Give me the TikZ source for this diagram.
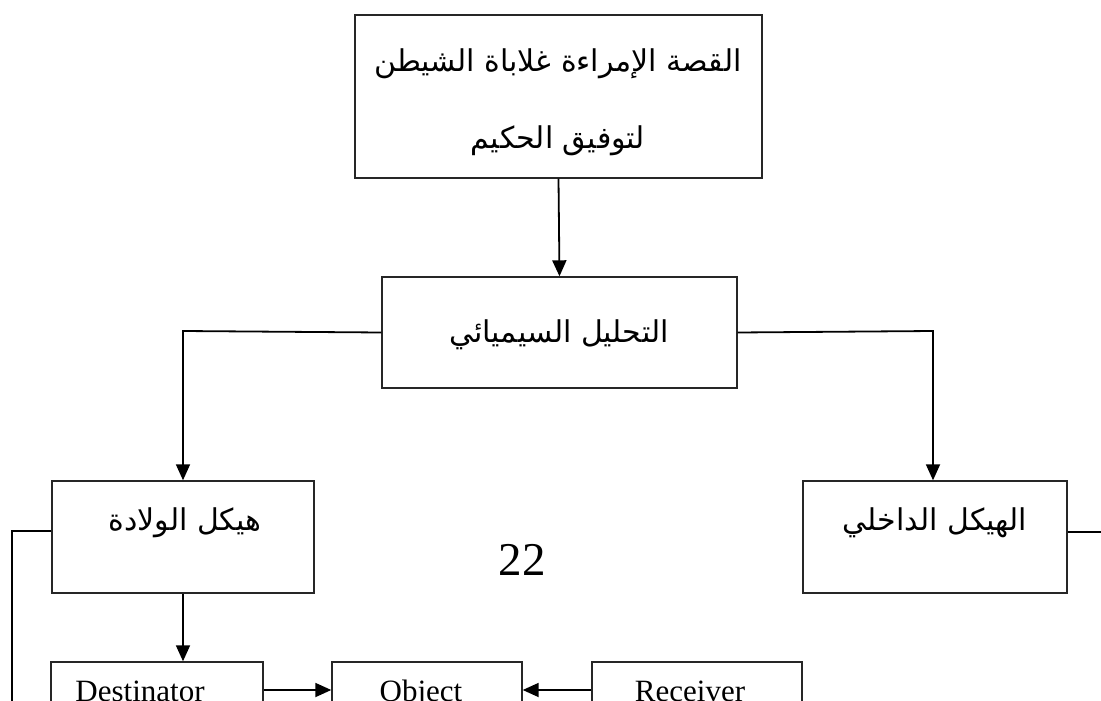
\documentclass[tikz,border=0pt]{standalone}
\usepackage{fontspec}
\setmainfont{Liberation Serif}
\newfontfamily\arabicfont[Script=Arabic]{DejaVu Sans}
\TeXXeTstate=1
\usetikzlibrary{arrows.meta}
\tikzset{
  box/.style={draw=black!85, line width=1.4pt, inner sep=0pt},
  conn/.style={draw=black, line width=1.8pt},
  arr/.style={conn, -{Triangle[length=16pt,width=14pt]}},
  ar/.style={font={\arabicfont\fontsize{30}{77}\selectfont}, inner sep=0pt, align=center},
  lat/.style={font={\fontsize{31}{36}\selectfont}, inner sep=0pt, anchor=base},
}
\begin{document}
\begin{tikzpicture}[x=1pt,y=-1pt]
\useasboundingbox (0,0) rectangle (1101,701);
\clip (0,0) rectangle (1101,701);
\fill[white] (0,0) rectangle (1101,701);
% boxes
\node[box, minimum width=407pt, minimum height=163pt] (top) at (558.5,96.5) {};
\node[box, minimum width=355pt, minimum height=111pt] (sem) at (559.5,332.5) {};
\node[box, minimum width=262pt, minimum height=112pt] (lbox) at (183,537) {};
\node[box, minimum width=264pt, minimum height=112pt] (rbox) at (935,537) {};
\node[box, minimum width=212pt, minimum height=56pt] (dest) at (157,690) {};
\node[box, minimum width=190pt, minimum height=56pt] (obj) at (427,690) {};
\node[box, minimum width=210pt, minimum height=56pt] (recv) at (697,690) {};
% texts
\node[ar] (ttop) at (558,102) {\beginR القصة الإمراءة غلاباة الشيطن\endR\\\beginR لتوفيق الحكيم\endR};
\node[ar] (tsem) at (559,335) {\beginR التحليل السيميائي\endR};
\node[ar] (tl) at (185,523) {\beginR هيكل الولادة\endR};
\node[ar] (tr) at (935,523) {\beginR الهيكل الداخلي\endR};
\node[font={\fontsize{47}{50}\selectfont}, inner sep=0pt] (num) at (522,560) {22};
\node[lat] (tdest) at (140,701) {Destinator};
\node[lat] (tobj) at (421,701) {Object};
\node[lat] (trecv) at (690,701) {Receiver};
% connectors
\coordinate (lk) at (12,531);
\coordinate (lend) at (12,720);
\coordinate (rk) at (1110,532);
\coordinate (lbr) at (183,331);
\coordinate (rbr) at (933,331);
\draw[arr] (top.south) -- (sem.north);
\draw[arr] (sem.west) -- (lbr) -- (lbox.north);
\draw[arr] (sem.east) -- (rbr) -- (rbr |- rbox.north);
\draw[conn] (lbox.west |- lk) -- (lk) -- (lend);
\draw[conn] (rbox.east |- rk) -- (rk);
\draw[arr] (lbox.south) -- (lbox.south |- dest.north);
\draw[arr] (dest.east) -- (obj.west);
\draw[arr] (recv.west) -- (obj.east);
\end{tikzpicture}
\end{document}
